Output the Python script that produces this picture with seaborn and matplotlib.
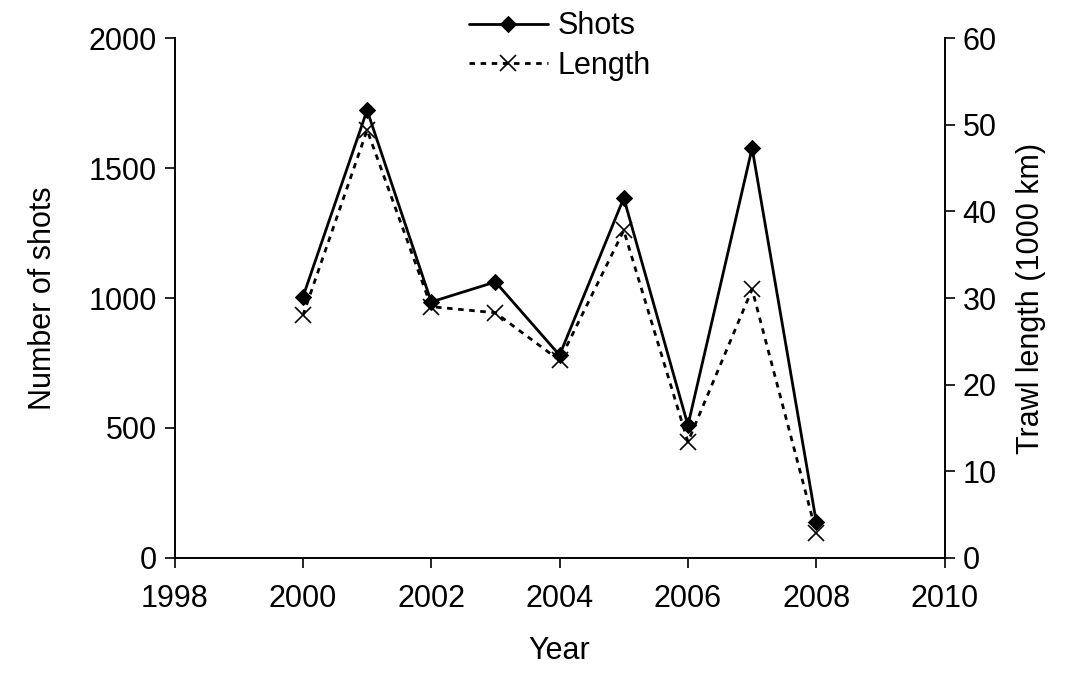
import numpy as np
import pandas as pd
import matplotlib
matplotlib.use("Agg")
import matplotlib.pyplot as plt
import seaborn as sns

years = [2000, 2001, 2002, 2003, 2004, 2005, 2006, 2007, 2008]
shots = [1004, 1723, 985, 1062, 780, 1385, 510, 1577, 138]
length_km = [28.0, 49.4, 29.0, 28.3, 22.8, 37.8, 13.4, 31.0, 2.9]

sns.set_style("ticks")
plt.rcParams['font.family'] = ['Liberation Sans', 'DejaVu Sans']
for k in ('text.color', 'axes.labelcolor', 'xtick.color', 'ytick.color', 'axes.edgecolor'):
    plt.rcParams[k] = 'black'

df = pd.DataFrame({'year': years, 'shots': shots, 'length': length_km})

fig, ax1 = plt.subplots(figsize=(10.71, 6.82), dpi=100)
ax2 = ax1.twinx()

sns.lineplot(data=df, x='year', y='shots', ax=ax1, color='black', linewidth=2,
             marker='D', markersize=8, markeredgecolor='black',
             label='Shots', legend=False)
sns.lineplot(data=df, x='year', y='length', ax=ax2, color='black', linewidth=2,
             linestyle=(0, (2, 2)), marker='x', markersize=12, markeredgewidth=1.2,
             markeredgecolor='black', label='Length', legend=False)

ax1.set_xlim(1998, 2010)
ax1.set_xticks(range(1998, 2011, 2))
ax1.set_ylim(0, 2000)
ax1.set_yticks([0, 500, 1000, 1500, 2000])
ax2.set_ylim(0, 60)
ax2.set_yticks(range(0, 61, 10))

ax1.set_xlabel('Year', labelpad=16, fontsize=22)
ax1.set_ylabel('Number of shots', fontsize=22, labelpad=22)
ax2.set_ylabel('Trawl length (1000 km)', fontsize=22, labelpad=14)
for ax in (ax1, ax2):
    ax.tick_params(direction='out', length=7, width=1.2, labelsize=22, pad=6)
    for s in ax.spines.values():
        s.set_linewidth(1.2)
ax1.spines['top'].set_visible(False)
ax2.spines['top'].set_visible(False)
ax1.tick_params(axis='x', pad=12)

h1, l1 = ax1.get_legend_handles_labels()
h2, l2 = ax2.get_legend_handles_labels()
ax1.legend(h1 + h2, l1 + l2, loc='upper center', bbox_to_anchor=(0.5, 1.075),
           frameon=False, fontsize=22, handlelength=2.6, borderaxespad=0,
           labelspacing=0.3, handletextpad=0.3)

fig.subplots_adjust(left=0.163, right=0.882, top=0.944, bottom=0.182)
fig.savefig('out.png', dpi=100)
